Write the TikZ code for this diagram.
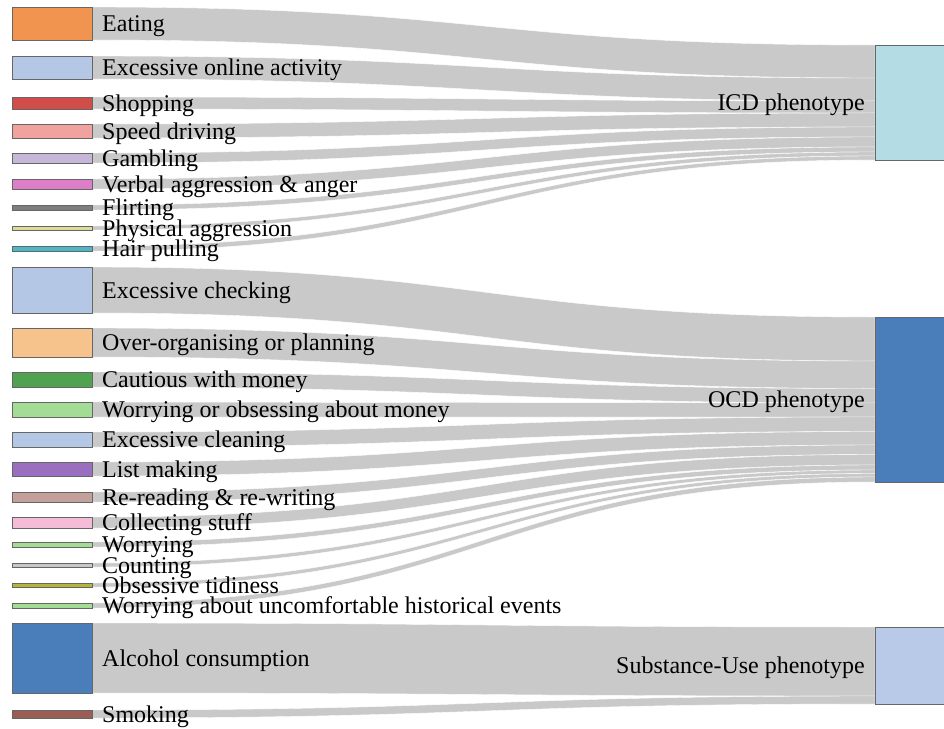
\documentclass[tikz,border=0pt]{standalone}
\usepackage{fontspec}
\setmainfont{Liberation Serif}
\usetikzlibrary{calc,backgrounds}
\definecolor{cEat}{HTML}{F0944F}
\definecolor{cOnline}{HTML}{B4C8E6}
\definecolor{cShop}{HTML}{D14D4A}
\definecolor{cSpeed}{HTML}{F2A29E}
\definecolor{cGamb}{HTML}{C6B6D8}
\definecolor{cVerbal}{HTML}{DD7FC8}
\definecolor{cFlirt}{HTML}{7F7F7F}
\definecolor{cPhys}{HTML}{DCDC96}
\definecolor{cHair}{HTML}{4BB8C8}
\definecolor{cCheck}{HTML}{B4C8E6}
\definecolor{cOverorg}{HTML}{F7C38C}
\definecolor{cCaut}{HTML}{4FA350}
\definecolor{cWorryMoney}{HTML}{A3DD95}
\definecolor{cClean}{HTML}{B4C8E6}
\definecolor{cList}{HTML}{9A6FC0}
\definecolor{cReread}{HTML}{C4A09A}
\definecolor{cCollect}{HTML}{F4BCD6}
\definecolor{cWorry}{HTML}{A3DD95}
\definecolor{cCount}{HTML}{C7C7C7}
\definecolor{cTidy}{HTML}{B5B53A}
\definecolor{cHist}{HTML}{A3DD95}
\definecolor{cAlc}{HTML}{4A7EBB}
\definecolor{cSmoke}{HTML}{9A5E55}
\definecolor{cICD}{HTML}{B3DCE5}
\definecolor{cOCD}{HTML}{4A7EBB}
\definecolor{cSub}{HTML}{B9CAE8}
\newcommand\lnode[5]{%
  \node[box, fill=#4, minimum height={(#3-#2)*1pt}] (#1) at (52,{(#2+#3)/2}) {};
  \node[lab] (#1-l) at ([xshift=10pt,yshift=-8pt]#1.east) {#5};}
\newcommand\slink[4]{%
  \begin{pgfonlayer}{background}
  \path[linkfill] (#1.north east)
    .. controls ($(#1.north east)+(391.5,0)$) and ($(#2.north west)+(-391.5,#3)$)
    .. ($(#2.north west)+(0,#3)$) -- ($(#2.north west)+(0,#4)$)
    .. controls ($(#2.north west)+(-391.5,#4)$) and ($(#1.south east)+(391.5,0)$)
    .. (#1.south east) -- cycle;
  \end{pgfonlayer}}
\begin{document}
\begin{tikzpicture}[x=1pt,y=-1pt,
  box/.style={draw=black!60, line width=1pt, inner sep=0pt, outer sep=0pt, minimum width=80pt},
  lab/.style={font=\fontsize{24}{28}\selectfont, inner sep=0pt, anchor=base west, text=black},
  rlab/.style={font=\fontsize{24}{28}\selectfont, inner sep=0pt, anchor=base east, text=black},
  linkfill/.style={fill=black, fill opacity=0.21, draw=white, line width=0.4pt}]
\useasboundingbox (0,0) rectangle (944,728);
\clip (0,0) rectangle (944,728);
% right nodes
\node[box, fill=cICD, minimum height=115pt] (icd) at (915,102.5) {};
\node[box, fill=cOCD, minimum height=165pt] (ocd) at (915,399.5) {};
\node[box, fill=cSub, minimum height=77pt] (sub) at (915,665.5) {};
\node[rlab] (icd-l) at ([xshift=-10pt,yshift=-8pt]icd.west) {ICD phenotype};
\node[rlab] (ocd-l) at ([xshift=-10pt,yshift=-8pt]ocd.west) {OCD phenotype};
\node[rlab] (sub-l) at ([xshift=-10pt,yshift=-8pt]sub.west) {Substance-Use phenotype};
% left nodes
\lnode{eat}{7}{40}{cEat}{Eating}
\lnode{online}{56}{79}{cOnline}{Excessive online activity}
\lnode{shop}{97}{109}{cShop}{Shopping}
\lnode{speed}{124}{138}{cSpeed}{Speed driving}
\lnode{gamb}{153}{163}{cGamb}{Gambling}
\lnode{verbal}{179}{189}{cVerbal}{Verbal aggression \& anger}
\lnode{flirt}{205}{210}{cFlirt}{Flirting}
\lnode{phys}{226}{230}{cPhys}{Physical aggression}
\lnode{hair}{246}{251}{cHair}{Hair pulling}
\lnode{check}{267}{313}{cCheck}{Excessive checking}
\lnode{overorg}{328}{357}{cOverorg}{Over-organising or planning}
\lnode{caut}{372}{387}{cCaut}{Cautious with money}
\lnode{wmoney}{402}{417}{cWorryMoney}{Worrying or obsessing about money}
\lnode{clean}{432}{447}{cClean}{Excessive cleaning}
\lnode{list}{462}{476}{cList}{List making}
\lnode{reread}{492}{502}{cReread}{Re-reading \& re-writing}
\lnode{collect}{517}{528}{cCollect}{Collecting stuff}
\lnode{worry}{542}{547}{cWorry}{Worrying}
\lnode{count}{563}{567}{cCount}{Counting}
\lnode{tidy}{583}{587}{cTidy}{Obsessive tidiness}
\lnode{hist}{603}{608}{cHist}{Worrying about uncomfortable historical events}
\lnode{alc}{623}{693}{cAlc}{Alcohol consumption}
\lnode{smoke}{710}{718}{cSmoke}{Smoking}
% links
\slink{eat}{icd}{0}{33}
\slink{online}{icd}{33}{56}
\slink{shop}{icd}{56}{68}
\slink{speed}{icd}{68}{82}
\slink{gamb}{icd}{82}{92}
\slink{verbal}{icd}{92}{102}
\slink{flirt}{icd}{102}{107}
\slink{phys}{icd}{107}{111}
\slink{hair}{icd}{111}{115}
\slink{check}{ocd}{0}{44}
\slink{overorg}{ocd}{44}{71.5}
\slink{caut}{ocd}{71.5}{86}
\slink{wmoney}{ocd}{86}{100}
\slink{clean}{ocd}{100}{114.5}
\slink{list}{ocd}{114.5}{128}
\slink{reread}{ocd}{128}{137.5}
\slink{collect}{ocd}{137.5}{148}
\slink{worry}{ocd}{148}{153}
\slink{count}{ocd}{153}{156.5}
\slink{tidy}{ocd}{156.5}{160}
\slink{hist}{ocd}{160}{165}
\slink{alc}{sub}{0}{69}
\slink{smoke}{sub}{69}{77}
\end{tikzpicture}
\end{document}
